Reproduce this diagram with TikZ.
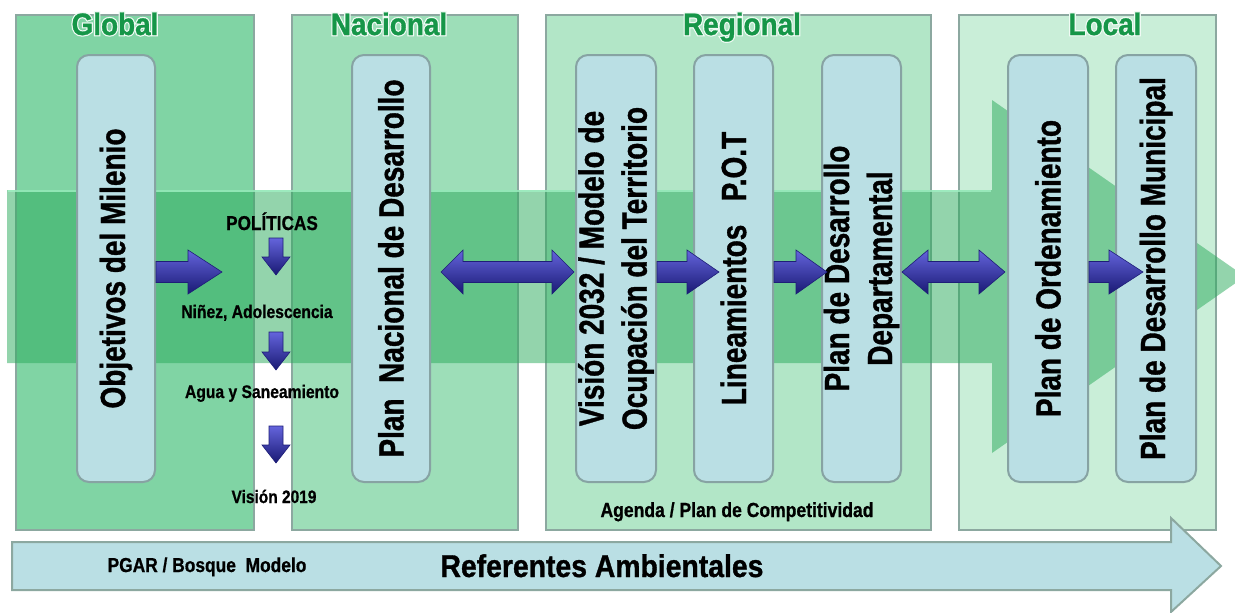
\documentclass[tikz,border=0pt]{standalone}
\usepackage{fontspec}
\setmainfont{Liberation Sans}
\newfontfamily\nbA{Liberation Sans}[FakeStretch=0.8, BoldFeatures={FakeBold=1}]
\newfontfamily\nbB{Liberation Sans}[FakeStretch=0.86, BoldFeatures={FakeBold=0.8}]
\newfontfamily\nbC{Liberation Sans}[FakeStretch=0.9, BoldFeatures={FakeBold=1}]
\newfontfamily\nbGlow{Liberation Sans}[FakeStretch=0.9, BoldFeatures={FakeBold=9}]
\usetikzlibrary{calc}
\definecolor{panelG}{RGB}{128,212,164}
\definecolor{panelN}{RGB}{157,222,184}
\definecolor{panelR}{RGB}{178,230,199}
\definecolor{panelL}{RGB}{201,238,216}
\definecolor{panelborder}{RGB}{140,168,160}
\definecolor{boxfill}{RGB}{186,223,228}
\definecolor{boxborder}{RGB}{135,163,163}
\definecolor{bigarrow}{RGB}{40,170,90}
\definecolor{mint}{RGB}{160,240,195}
\definecolor{titlegreen}{RGB}{22,150,72}
\definecolor{glowwhite}{RGB}{240,250,244}
\definecolor{bluetop}{RGB}{100,100,220}
\definecolor{bluemid}{RGB}{45,45,175}
\definecolor{bluebot}{RGB}{25,25,115}
\definecolor{bluedark}{RGB}{30,30,120}
\newcommand\glowtitle[1]{%
  \leavevmode\rlap{\nbGlow\bfseries\textcolor{glowwhite}{#1}}\textcolor{titlegreen}{#1}}
\tikzset{
  panel/.style={draw=panelborder, line width=2pt, fill=#1},
  innerbox/.style={draw=boxborder, line width=2pt, fill=boxfill, rounded corners=12pt,
    rotate=90, minimum width=427pt, inner sep=0pt, align=center,
    font=\nbA\bfseries\fontsize{35}{43}\selectfont},
  titletext/.style={inner sep=0pt, anchor=base, font=\nbC\bfseries\fontsize{31}{31}\selectfont},
  lbl/.style={inner sep=0pt, anchor=base, font=\nbB\bfseries\fontsize{#1}{#1}\selectfont},
  biglbl/.style={inner sep=0pt, anchor=base, font=\nbC\bfseries\fontsize{#1}{#1}\selectfont},
  bluearr/.style={draw=bluedark, line width=0.6pt, top color=bluetop, middle color=bluemid, bottom color=bluebot},
}
\newcommand\harrow[3]{%
  \path[bluearr] let \p1=(#1), \p2=(#2) in
    (\x1,\y1+10.5pt) -- (\x2-#3,\y1+10.5pt) -- (\x2-#3,\y1+22pt) -- (\x2,\y1)
    -- (\x2-#3,\y1-22pt) -- (\x2-#3,\y1-10.5pt) -- (\x1,\y1-10.5pt) -- cycle;}
\newcommand\dharrow[3]{%
  \path[bluearr] let \p1=(#1), \p2=(#2) in
    (\x1,\y1) -- (\x1+#3,\y1+22pt) -- (\x1+#3,\y1+10.5pt) -- (\x2-#3,\y1+10.5pt)
    -- (\x2-#3,\y1+22pt) -- (\x2,\y1) -- (\x2-#3,\y1-22pt) -- (\x2-#3,\y1-10.5pt)
    -- (\x1+#3,\y1-10.5pt) -- (\x1+#3,\y1-22pt) -- cycle;}
\newcommand\varrow[2]{%
  \path[bluearr] let \p1=(#1), \p2=(#2) in
    (\x1-7pt,\y1) -- (\x1+7pt,\y1) -- (\x1+7pt,\y2+18pt) -- (\x1+14pt,\y2+18pt)
    -- (\x1,\y2) -- (\x1-14pt,\y2+18pt) -- (\x1-7pt,\y2+18pt) -- cycle;}
\begin{document}
\begin{tikzpicture}[x=1pt,y=-1pt]
\useasboundingbox (0,0) rectangle (1235,613);
\clip (0,0) rectangle (1235,613);
\fill[white] (0,0) rectangle (1235,613);
% panels
\draw[panel=panelG] (16,15) rectangle (254,530);
\draw[panel=panelN] (292,15) rectangle (518,530);
\draw[panel=panelR] (546,15) rectangle (931,530);
\draw[panel=panelL] (959,15) rectangle (1216,530);
% titles
\node[titletext] (tG) at (115,35) {\glowtitle{Global}};
\node[titletext] (tN) at (389,35) {\glowtitle{Nacional}};
\node[titletext] (tR) at (742,35) {\glowtitle{Regional}};
\node[titletext] (tL) at (1105,35) {\glowtitle{Local}};
% big translucent arrow
\fill[bigarrow, fill opacity=0.5] (7,190) -- (992,190) -- (992,100) -- (1245,276.5)
  -- (992,453) -- (992,363) -- (7,363) -- cycle;
\draw[mint, line width=1.5pt, opacity=0.8] (8,191) -- (991,191);
% inner boxes
\node[innerbox, minimum height=78pt] (obj) at (116,268.5) {Objetivos del Milenio};
\node[innerbox, minimum height=78pt] (nac) at (391,268.5) {Plan\ \ Nacional de Desarrollo};
\node[innerbox, minimum height=80pt] (vis) at (616,268.5) {Visión 2032 / Modelo de\\Ocupación del Territorio};
\node[innerbox, minimum height=79pt] (lin) at (733.5,268.5) {Lineamientos\ \ \ P.O.T};
\node[innerbox, minimum height=79pt] (dep) at (861.5,268.5) {Plan de Desarrollo\\Departamental};
\node[innerbox, minimum height=80pt] (ord) at (1048,268.5) {Plan de Ordenamiento};
\node[innerbox, minimum height=80pt] (mun) at (1156,268.5) {Plan de Desarrollo Municipal};
% arrow level
\coordinate (ay) at (0,272);
\coordinate (p1) at (222,272);
\harrow{obj.south |- ay}{p1}{34pt}
\dharrow{$(nac.south |- ay)+(10,0)$}{$(vis.north |- ay)+(-1,0)$}{22pt}
\harrow{vis.south |- ay}{$(lin.north |- ay)+(26,0)$}{32pt}
\harrow{lin.south |- ay}{$(dep.north |- ay)+(6,0)$}{31pt}
\dharrow{dep.south |- ay}{$(ord.north |- ay)+(-2,0)$}{26pt}
\harrow{ord.south |- ay}{$(mun.north |- ay)+(28,0)$}{34pt}
% politicas column
\node[lbl=20] (pol) at (272,230) {POLÍTICAS};
\node[lbl=18.2] (nin) at (257,318) {Niñez, Adolescencia};
\node[lbl=18.2] (agu) at (262,398) {Agua y Saneamiento};
\node[lbl=18] (v19) at (274,503) {Visión 2019};
\coordinate (d1a) at (276,238); \coordinate (d1b) at (276,275);
\coordinate (d2a) at (276,332); \coordinate (d2b) at (276,370);
\coordinate (d3a) at (276,426); \coordinate (d3b) at (276,463);
\varrow{d1a}{d1b}
\varrow{d2a}{d2b}
\varrow{d3a}{d3b}
\node[lbl=20.4] (agd) at (737,517) {Agenda / Plan de Competitividad};
% bottom arrow
\draw[draw=panelborder, line width=2pt, fill=boxfill] (12,542) -- (1171,542) -- (1171,518)
  -- (1221,566) -- (1171,612) -- (1171,590) -- (12,590) -- cycle;
\node[lbl=20.2] (pgar) at (207,572) {PGAR / Bosque\ \ Modelo};
\node[biglbl=31.5] (ref) at (602,577) {Referentes Ambientales};
\end{tikzpicture}
\end{document}
